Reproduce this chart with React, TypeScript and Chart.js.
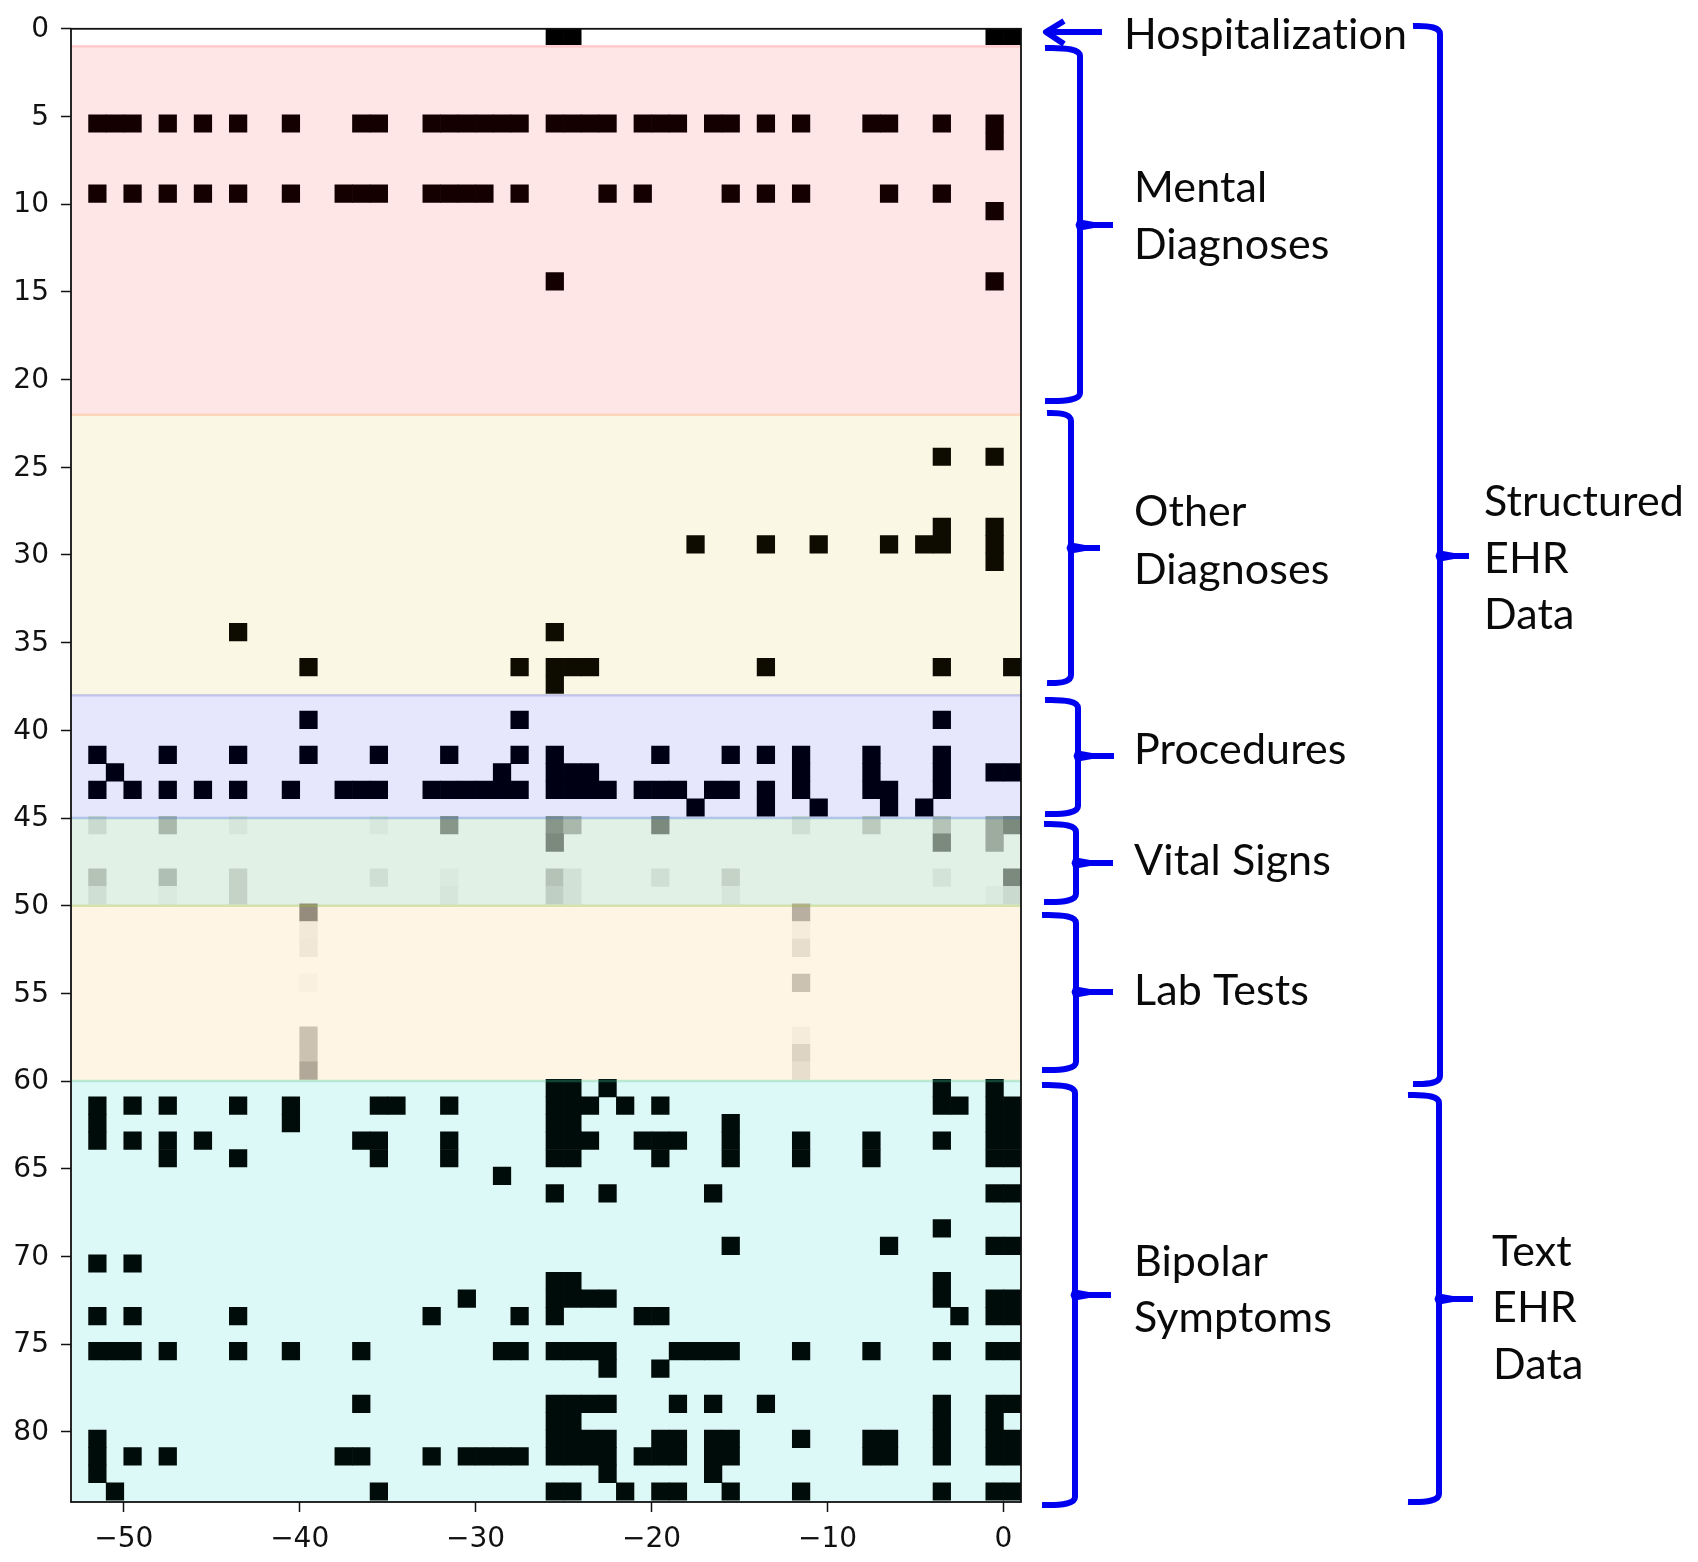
import React, { useEffect, useRef } from "react";
import { Chart, registerables } from "chart.js";

Chart.register(...registerables);

// Each row is [row index, columns that are filled]; a column c covers c..c+1 weeks.
const hospitalization: [number, number[]][] = [[0, [-26, -25, -1, 0]]];
const mentalDiagnoses: [number, number[]][] = [
  [5, [-52, -51, -50, -48, -46, -44, -41, -37, -36, -33, -32, -31, -30, -29, -28, -26, -25, -24, -23, -21, -20, -19, -17, -16, -14, -12, -8, -7, -4, -1]],
  [6, [-1]],
  [9, [-52, -50, -48, -46, -44, -41, -38, -37, -36, -33, -32, -31, -30, -28, -23, -21, -16, -14, -12, -7, -4]],
  [10, [-1]],
  [14, [-26, -1]],
];
const otherDiagnoses: [number, number[]][] = [
  [24, [-4, -1]],
  [28, [-4, -1]],
  [29, [-18, -14, -11, -7, -5, -4, -1]],
  [30, [-1]],
  [34, [-44, -26]],
  [36, [-40, -28, -26, -25, -24, -14, -4, 0]],
  [37, [-26]],
];
const procedures: [number, number[]][] = [
  [39, [-40, -28, -4]],
  [41, [-52, -48, -44, -40, -36, -32, -28, -26, -20, -16, -14, -12, -8, -4]],
  [42, [-51, -29, -26, -25, -24, -12, -8, -4, -1, 0]],
  [43, [-52, -50, -48, -46, -44, -41, -38, -37, -36, -33, -32, -31, -30, -29, -28, -26, -25, -24, -23, -21, -20, -19, -17, -16, -14, -12, -8, -7, -4]],
  [44, [-18, -14, -11, -7, -5]],
];
const bipolarSymptoms: [number, number[]][] = [
  [60, [-26, -25, -23, -4, -1]],
  [61, [-52, -50, -48, -44, -41, -36, -35, -32, -26, -25, -24, -22, -20, -4, -3, -1, 0]],
  [62, [-52, -41, -26, -25, -16, -1, 0]],
  [63, [-52, -50, -48, -46, -37, -36, -32, -26, -25, -24, -21, -20, -19, -16, -12, -8, -4, -1, 0]],
  [64, [-48, -44, -36, -32, -26, -25, -20, -16, -12, -8, -1, 0]],
  [65, [-29]],
  [66, [-26, -23, -17, -1, 0]],
  [68, [-4]],
  [69, [-16, -7, -1, 0]],
  [70, [-52, -50]],
  [71, [-26, -25, -4]],
  [72, [-31, -26, -25, -24, -23, -4, -1, 0]],
  [73, [-52, -50, -44, -33, -28, -26, -21, -20, -3, -1, 0]],
  [75, [-52, -51, -50, -48, -44, -41, -37, -29, -28, -26, -25, -24, -23, -19, -18, -17, -16, -12, -8, -4, -1, 0]],
  [76, [-23, -20]],
  [78, [-37, -26, -25, -24, -23, -19, -17, -14, -4, -1, 0]],
  [79, [-26, -25, -4, -1]],
  [80, [-52, -26, -25, -24, -23, -20, -19, -17, -16, -12, -8, -7, -4, -1, 0]],
  [81, [-52, -50, -48, -38, -37, -33, -31, -30, -29, -28, -26, -25, -24, -23, -21, -20, -19, -17, -16, -8, -7, -4, -1, 0]],
  [82, [-52, -23, -17]],
  [83, [-51, -36, -26, -25, -22, -20, -19, -16, -12, -4, -1, 0]],
];

// Graded rows: [row, column, intensity]
const vitalSigns: [number, number, number][] = [
  [45, -52, 0.1], [45, -48, 0.25], [45, -44, 0.05], [45, -36, 0.04], [45, -32, 0.4], [45, -26, 0.4], [45, -25, 0.25],
  [45, -20, 0.45], [45, -12, 0.08], [45, -8, 0.17], [45, -4, 0.2], [45, -1, 0.3], [45, 0, 0.45],
  [46, -26, 0.45], [46, -4, 0.45], [46, -1, 0.3],
  [48, -52, 0.2], [48, -48, 0.22], [48, -44, 0.13], [48, -36, 0.08], [48, -32, 0.03], [48, -26, 0.2], [48, -25, 0.07],
  [48, -20, 0.08], [48, -16, 0.13], [48, -4, 0.06], [48, 0, 0.45],
  [49, -52, 0.08], [49, -48, 0.03], [49, -44, 0.13], [49, -32, 0.05], [49, -26, 0.15], [49, -25, 0.07], [49, -16, 0.05],
  [49, -1, 0.03], [49, 0, 0.1],
];
const labTests: [number, number, number][] = [
  [50, -40, 0.45], [50, -12, 0.3],
  [51, -40, 0.05], [51, -12, 0.04],
  [52, -40, 0.06], [52, -12, 0.1],
  [54, -40, 0.02], [54, -12, 0.22],
  [57, -40, 0.22], [57, -12, 0.04],
  [58, -40, 0.22], [58, -12, 0.14],
  [59, -40, 0.33], [59, -12, 0.1],
];

const xTickValues = [-50, -40, -30, -20, -10, 0];
const yTickValues = [0, 5, 10, 15, 20, 25, 30, 35, 40, 45, 50, 55, 60, 65, 70, 75, 80];

type RGB = [number, number, number];
const bandNames = ["Mental Diagnoses", "Other Diagnoses", "Procedures", "Vital Signs", "Lab Tests", "Bipolar Symptoms"];
const bandStarts = [1, 22, 38, 45, 50, 60];
const bandEnds = [22, 38, 45, 50, 60, 84];
const bandFills: RGB[] = [[255, 230, 230], [250, 247, 228], [230, 230, 253], [226, 241, 229], [255, 245, 228], [221, 249, 247]];
const bandInks: RGB[] = [[20, 0, 0], [14, 12, 0], [0, 0, 20], [0, 12, 0], [20, 12, 0], [0, 12, 10]];
const bandEdges = ["rgba(255,130,130,0.35)", "rgba(255,170,120,0.4)", "rgba(100,100,210,0.3)", "rgba(60,110,210,0.3)", "rgba(150,190,60,0.35)", "rgba(60,200,150,0.3)"];

const mix = (a: RGB, b: RGB, v: number) =>
  `rgb(${a.map((c, i) => Math.round(c * (1 - v) + b[i] * v)).join(",")})`;

// The image sits a tenth of a row above the tick marks.
const ROW_SHIFT = -0.1;
const binary = (rows: [number, number[]][]) =>
  rows.flatMap(([r, cols]) => cols.map((c) => ({ x: c + 0.5, y: [r + ROW_SHIFT, r + 1 + ROW_SHIFT] })));
const graded = (cells: [number, number, number][]) =>
  cells.map(([r, c, v]) => ({ x: c + 0.5, y: [r + ROW_SHIFT, r + 1 + ROW_SHIFT], v }));

const FONT = "Lato";
const BLUE = "#0000f0";

const annotationText: [string, number, number][] = [
  ["Hospitalization", 1124, 35],
  ["Mental", 1134, 188],
  ["Diagnoses", 1134, 245],
  ["Other", 1134, 512],
  ["Diagnoses", 1134, 570],
  ["Procedures", 1134, 750],
  ["Vital Signs", 1134, 861],
  ["Lab Tests", 1134, 991],
  ["Bipolar", 1134, 1262],
  ["Symptoms", 1134, 1318],
  ["Structured", 1484, 502],
  ["EHR", 1484, 559],
  ["Data", 1484, 615],
  ["Text", 1492, 1252],
  ["EHR", 1492, 1308],
  ["Data", 1493, 1365],
];

function brace(ctx: CanvasRenderingContext2D, x0: number, xv: number, top: number, mid: number, xt: number, bottom: number) {
  ctx.beginPath();
  ctx.moveTo(x0, top);
  ctx.quadraticCurveTo(xv, top - 1, xv, top + 8);
  ctx.lineTo(xv, bottom - 8);
  ctx.quadraticCurveTo(xv, bottom + 1, x0, bottom);
  ctx.stroke();
  ctx.beginPath();
  ctx.moveTo(xv, mid);
  ctx.lineTo(xt, mid);
  ctx.stroke();
  // the small kink where the tick leaves the brace
  ctx.beginPath();
  ctx.moveTo(xv - 4.5, mid);
  ctx.lineTo(xv - 2, mid - 7);
  ctx.lineTo(xv + 3, mid - 5);
  ctx.lineTo(xv + 14, mid - 3);
  ctx.lineTo(xv + 14, mid + 3);
  ctx.lineTo(xv + 3, mid + 5);
  ctx.lineTo(xv - 2, mid + 7);
  ctx.closePath();
  ctx.fill();
}

const bandsPlugin = {
  id: "bands",
  beforeDatasetsDraw(chart: any) {
    const { ctx, chartArea, scales } = chart;
    ctx.save();
    bandStarts.forEach((s, i) => {
      const y0 = scales.y.getPixelForValue(s);
      const y1 = scales.y.getPixelForValue(bandEnds[i]);
      ctx.fillStyle = mix(bandFills[i], bandFills[i], 0);
      ctx.fillRect(chartArea.left, y0, chartArea.right - chartArea.left, y1 - y0);
    });
    ctx.restore();
  },
  afterDatasetsDraw(chart: any) {
    const { ctx, chartArea, scales } = chart;
    ctx.save();
    ctx.lineWidth = 2.5;
    bandStarts.forEach((s, i) => {
      ctx.strokeStyle = bandEdges[i];
      const y = scales.y.getPixelForValue(s);
      ctx.beginPath();
      ctx.moveTo(chartArea.left, y);
      ctx.lineTo(chartArea.right, y);
      ctx.stroke();
    });
    ctx.strokeStyle = "#111";
    ctx.lineWidth = 1.8;
    ctx.strokeRect(chartArea.left, chartArea.top, chartArea.right - chartArea.left, chartArea.bottom - chartArea.top);
    ctx.restore();
  },
};

const annotationPlugin = {
  id: "annotations",
  afterDraw(chart: any) {
    const ctx: CanvasRenderingContext2D = chart.ctx;
    ctx.save();
    ctx.strokeStyle = BLUE;
    ctx.fillStyle = BLUE;
    ctx.lineWidth = 6;
    ctx.lineCap = "butt";
    ctx.lineJoin = "round";
    // arrow to the hospitalization row
    ctx.beginPath();
    ctx.moveTo(1102, 32);
    ctx.lineTo(1046, 32);
    ctx.moveTo(1064, 21);
    ctx.lineTo(1046, 32);
    ctx.lineTo(1064, 44);
    ctx.stroke();
    brace(ctx, 1045, 1080, 48, 225, 1113, 401);
    brace(ctx, 1047, 1071, 413, 548, 1100, 683);
    brace(ctx, 1045, 1078, 700, 756, 1114, 814);
    brace(ctx, 1044, 1076, 824, 863, 1113, 902);
    brace(ctx, 1042, 1076, 915, 992, 1113, 1070);
    brace(ctx, 1042, 1075, 1085, 1295, 1111, 1505);
    brace(ctx, 1413, 1440, 26, 556, 1469, 1084);
    brace(ctx, 1408, 1439, 1095, 1299, 1473, 1502);
    ctx.fillStyle = "#0a0a0a";
    ctx.font = `43px ${FONT}`;
    (ctx as any).letterSpacing = "0.1px";
    ctx.textAlign = "left";
    ctx.textBaseline = "middle";
    annotationText.forEach(([t, x, y]) => ctx.fillText(t, x, y));
    ctx.restore();
  },
};

export default function App() {
  const ref = useRef<HTMLCanvasElement>(null);
  useEffect(() => {
    if (!ref.current) return;
    const tick = (v: number) => String(v).replace("-", "\u2212");
    const binarySet = (label: string, rows: [number, number[]][], color: string) => ({
      label,
      data: binary(rows) as any[],
      backgroundColor: color,
      grouped: false,
      barPercentage: 1,
      categoryPercentage: 1,
    });
    const gradedSet = (label: string, cells: [number, number, number][], band: number) => ({
      label,
      data: graded(cells) as any[],
      backgroundColor: cells.map(([, , v]) => mix(bandFills[band], bandInks[band], v)),
      grouped: false,
      barPercentage: 1,
      categoryPercentage: 1,
    });
    const chart = new Chart(ref.current, {
      type: "bar",
      data: {
        datasets: [
          binarySet("Hospitalization", hospitalization, "#000"),
          binarySet(bandNames[0], mentalDiagnoses, mix(bandInks[0], bandInks[0], 0)),
          binarySet(bandNames[1], otherDiagnoses, mix(bandInks[1], bandInks[1], 0)),
          binarySet(bandNames[2], procedures, mix(bandInks[2], bandInks[2], 0)),
          gradedSet(bandNames[3], vitalSigns, 3),
          gradedSet(bandNames[4], labTests, 4),
          binarySet(bandNames[5], bipolarSymptoms, mix(bandInks[5], bandInks[5], 0)),
        ],
      } as any,
      options: {
        responsive: false,
        animation: false,
        layout: { padding: { top: 28, right: 677, bottom: 0, left: 0 } },
        plugins: { legend: { display: false }, tooltip: { enabled: false } },
        scales: {
          x: {
            type: "linear",
            min: -53,
            max: 1,
            offset: false,
            afterFit: (s: any) => { s.height = 60; },
            afterBuildTicks: (s: any) => { s.ticks = xTickValues.map((value) => ({ value })); },
            grid: { offset: false, drawOnChartArea: false, drawTicks: true, tickLength: 10, tickColor: "#111", tickWidth: 1.5 },
            border: { display: false },
            ticks: {
              color: "#111",
              font: { family: "DejaVu Sans", size: 28 },
              padding: 11,
              maxRotation: 0,
              autoSkip: false,
              callback: (v: any) => tick(v),
            },
          },
          y: {
            type: "linear",
            reverse: true,
            min: 0,
            max: 84,
            afterFit: (s: any) => { s.width = 71; },
            afterBuildTicks: (s: any) => { s.ticks = yTickValues.map((value) => ({ value })); },
            grid: { drawOnChartArea: false, drawTicks: true, tickLength: 10, tickColor: "#111", tickWidth: 1.5 },
            border: { display: false },
            ticks: {
              color: "#111",
              font: { family: "DejaVu Sans", size: 28 },
              padding: 12,
              labelOffset: 1,
              autoSkip: false,
              callback: (v: any) => tick(v),
            },
          },
        },
      } as any,
      plugins: [bandsPlugin, annotationPlugin],
    });
    return () => chart.destroy();
  }, []);
  return (
    <canvas
      ref={ref}
      width={1698}
      height={1562}
      style={{ position: "absolute", left: 0, top: 0, width: 1698, height: 1562, display: "block", background: "#fff" }}
    />
  );
}
